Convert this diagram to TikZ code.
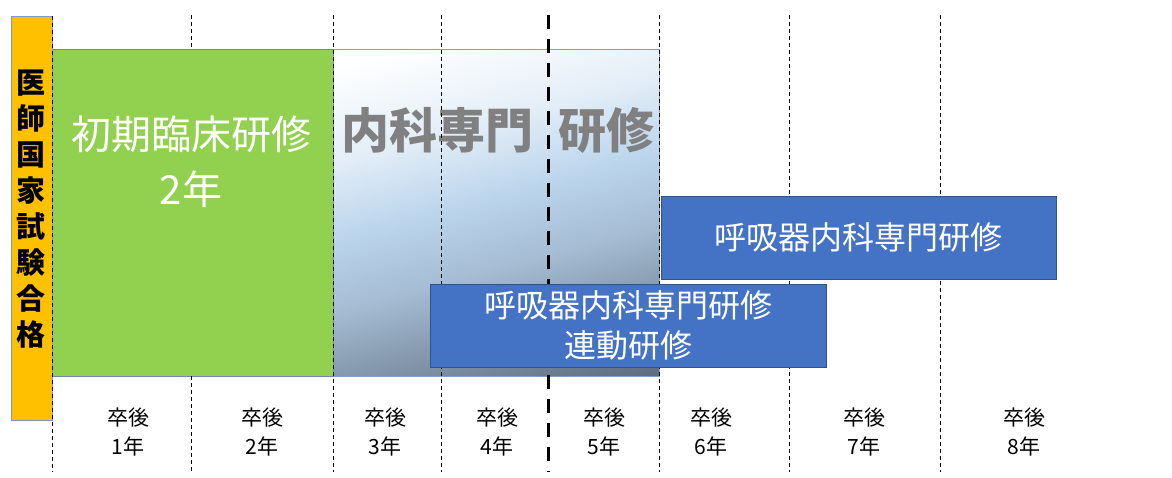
\documentclass[tikz,border=0pt]{standalone}
\usepackage{fontspec}
\setmainfont{Noto Sans CJK JP}
\definecolor{orng}{HTML}{FFC000}
\definecolor{grn}{HTML}{92D050}
\definecolor{blu}{HTML}{4472C4}
\definecolor{bluedge}{HTML}{2F528F}
\definecolor{lb}{HTML}{BAD4EC}
\definecolor{gb}{HTML}{5F6E80}
\definecolor{txtgray}{HTML}{808080}
\pgfdeclareverticalshading{naikashade}{100bp}{color(0bp)=(gb); color(20bp)=(gb); color(30bp)=(gb!65!lb); color(42bp)=(gb!22!lb); color(52bp)=(lb); color(64bp)=(lb!40!white); color(78bp)=(white); color(100bp)=(white)}
\tikzset{
  box/.style={inner sep=0pt, outer sep=0pt, anchor=north west},
  bluebox/.style={box, draw=bluedge, line width=0.8pt, fill=blu, text=white, align=center,
    font=\fontsize{32}{40}\selectfont},
  gridline/.style={black, line width=0.7pt, dash pattern=on 4pt off 3pt},
  midline/.style={black, line width=3pt, dash pattern=on 14pt off 10pt},
  yearlabel/.style={align=center, font=\fontsize{21}{29}\selectfont, inner sep=0pt},
}
\begin{document}
\begin{tikzpicture}[x=1pt,y=-1pt]
\useasboundingbox (0,0) rectangle (1172,477);
% gradient box (internal medicine)
\node[box, draw=lb!60!bluedge, line width=0.6pt, shading=naikashade, shading angle=15,
  minimum width=326pt, minimum height=327pt] (naika) at (333,49) {};
\node[text=txtgray, font=\fontsize{48}{50}\selectfont\bfseries, inner sep=0pt] (naikaA) at (437,130) {内科専門};
\node[text=txtgray, font=\fontsize{48}{50}\selectfont\bfseries, inner sep=0pt] (naikaB) at (606,130) {研修};
% green box
\node[box, draw=bluedge!70, line width=0.6pt, fill=grn, minimum width=281pt, minimum height=327pt] (shoki) at (52,49) {};
\node[text=white, align=center, font=\fontsize{40}{55}\selectfont, inner sep=0pt] (shokitxt) at (191,162) {初期臨床研修\\2年};
% orange bar
\node[box, draw=bluedge!60, line width=0.6pt, fill=orng, minimum width=41pt, minimum height=404pt] (goukaku) at (11,16) {};
\node[align=center, font=\fontsize{29}{36}\selectfont\bfseries, inner sep=0pt] (goukakutxt) at (31,209) {医\\師\\国\\家\\試\\験\\合\\格};
% grid lines
\coordinate (g1t) at (52,16);   \coordinate (g1b) at (52,472);
\coordinate (g2t) at (191,15);  \coordinate (g2m) at (191,49);
\coordinate (g2n) at (191,376); \coordinate (g2b) at (191,472);
\coordinate (g3t) at (333,15);  \coordinate (g3b) at (333,472);
\coordinate (g4t) at (441,15);  \coordinate (g4b) at (441,472);
\coordinate (g5t) at (548,15);  \coordinate (g5b) at (548,472);
\coordinate (g6t) at (659,15);  \coordinate (g6b) at (659,472);
\coordinate (g7t) at (789,15);  \coordinate (g7b) at (789,472);
\coordinate (g8t) at (940,15);  \coordinate (g8b) at (940,472);
\draw[gridline] (g1t) -- (g1b);
\draw[gridline] (g2t) -- (g2m);
\draw[gridline] (g2n) -- (g2b);
\draw[gridline] (g3t) -- (g3b);
\draw[gridline] (g4t) -- (g4b);
\draw[midline] (g5t) -- (g5b);
\draw[gridline] (g6t) -- (g6b);
\draw[gridline] (g7t) -- (g7b);
\draw[gridline] (g8t) -- (g8b);
% blue boxes
\node[bluebox, minimum width=395pt, minimum height=83pt] (kokyu) at (661,196) {呼吸器内科専門研修};
\node[bluebox, minimum width=396pt, minimum height=83pt] (rendo) at (430,284) {呼吸器内科専門研修\\連動研修};
% year labels
\node[yearlabel] (y1) at (128,432) {卒後\\1年};
\node[yearlabel] (y2) at (262,432) {卒後\\2年};
\node[yearlabel] (y3) at (385,432) {卒後\\3年};
\node[yearlabel] (y4) at (497,432) {卒後\\4年};
\node[yearlabel] (y5) at (604,432) {卒後\\5年};
\node[yearlabel] (y6) at (711,432) {卒後\\6年};
\node[yearlabel] (y7) at (864,432) {卒後\\7年};
\node[yearlabel] (y8) at (1024,432) {卒後\\8年};
\end{tikzpicture}
\end{document}
